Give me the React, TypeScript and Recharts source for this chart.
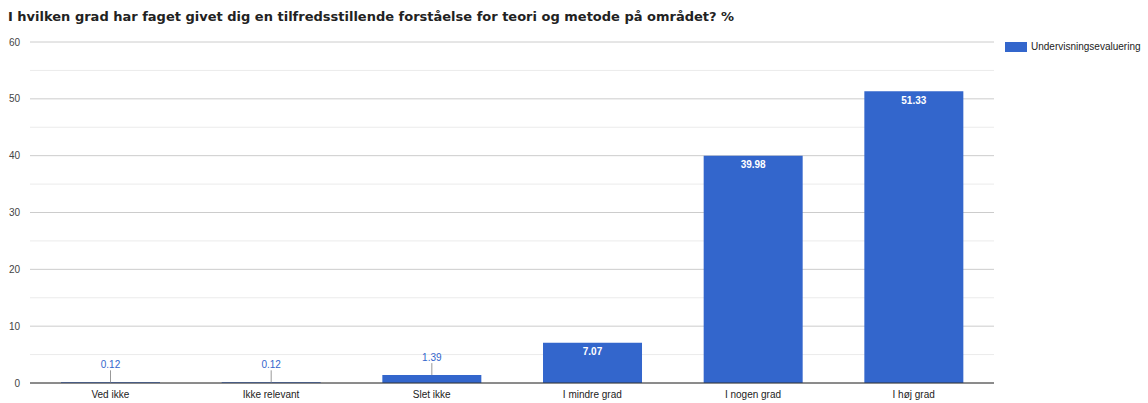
import React from 'react';
import { BarChart, Bar, XAxis, YAxis, CartesianGrid, LabelList } from 'recharts';

const categories = ['Ved ikke', 'Ikke relevant', 'Slet ikke', 'I mindre grad', 'I nogen grad', 'I høj grad'];
const values = [0.12, 0.12, 1.39, 7.07, 39.98, 51.33];
const yTicks = [0, 10, 20, 30, 40, 50, 60];
const minorTicks = [5, 15, 25, 35, 45, 55];

const SERIES = 'Undervisningsevaluering';
const BLUE = '#3366cc';
const FONT = 'Arial, "Liberation Sans", sans-serif';

const data = categories.map((c, i) => ({ name: c, value: values[i] }));

function BarLabel(props: any) {
  const { x, y, width, value } = props;
  const cx = x + width / 2;
  if (value >= 5) {
    return (
      <text x={cx} y={y + 9} textAnchor="middle" dominantBaseline="central" fill="#fff" fontSize={10} fontWeight="bold" fontFamily={FONT}>
        {value.toFixed(2)}
      </text>
    );
  }
  return (
    <g>
      <line x1={cx} x2={cx} y1={y} y2={y - 12} stroke="#999" strokeWidth={1} />
      <text x={cx} y={y - 18} textAnchor="middle" dominantBaseline="central" fill={BLUE} fontSize={10} fontFamily={FONT}>
        {value.toFixed(2)}
      </text>
    </g>
  );
}

export default function App() {
  return (
    <div style={{ position: 'absolute', left: 0, top: 0, width: 1148, height: 403, background: '#fff' }}>
      <div
        style={{
          position: 'absolute',
          left: 8,
          top: 9,
          fontFamily: '"DejaVu Sans", Verdana, sans-serif',
          fontWeight: 'bold',
          fontSize: 13,
          color: '#222',
          whiteSpace: 'nowrap',
        }}
      >
        I hvilken grad har faget givet dig en tilfredsstillende forståelse for teori og metode på området? %
      </div>
      <div
        style={{
          position: 'absolute',
          left: 1005,
          top: 41,
          display: 'flex',
          alignItems: 'center',
          fontFamily: FONT,
          fontSize: 10,
          color: '#222',
        }}
      >
        <span style={{ width: 22, height: 10, background: BLUE, display: 'inline-block', marginRight: 4 }} />
        {SERIES}
      </div>
      <BarChart
        width={1148}
        height={403}
        data={data}
        margin={{ top: 42, right: 154, bottom: 0, left: 0 }}
        barCategoryGap="19.3%"
      >
        <CartesianGrid vertical={false} horizontalValues={minorTicks} stroke="#ebebeb" strokeDasharray="" />
        <CartesianGrid vertical={false} horizontalValues={yTicks} stroke="#cccccc" strokeDasharray="" />
        <XAxis
          dataKey="name"
          height={20}
          tickLine={false}
          axisLine={{ stroke: '#333' }}
          tick={{ fontSize: 10, fill: '#222', fontFamily: FONT }}
          interval={0}
        />
        <YAxis
          width={30}
          domain={[0, 60]}
          ticks={yTicks}
          tickLine={false}
          axisLine={false}
          tickMargin={4}
          tick={{ fontSize: 10, fill: '#444', fontFamily: FONT }}
        />
        <Bar dataKey="value" name={SERIES} fill={BLUE} isAnimationActive={false}>
          <LabelList dataKey="value" content={<BarLabel />} />
        </Bar>
      </BarChart>
    </div>
  );
}
